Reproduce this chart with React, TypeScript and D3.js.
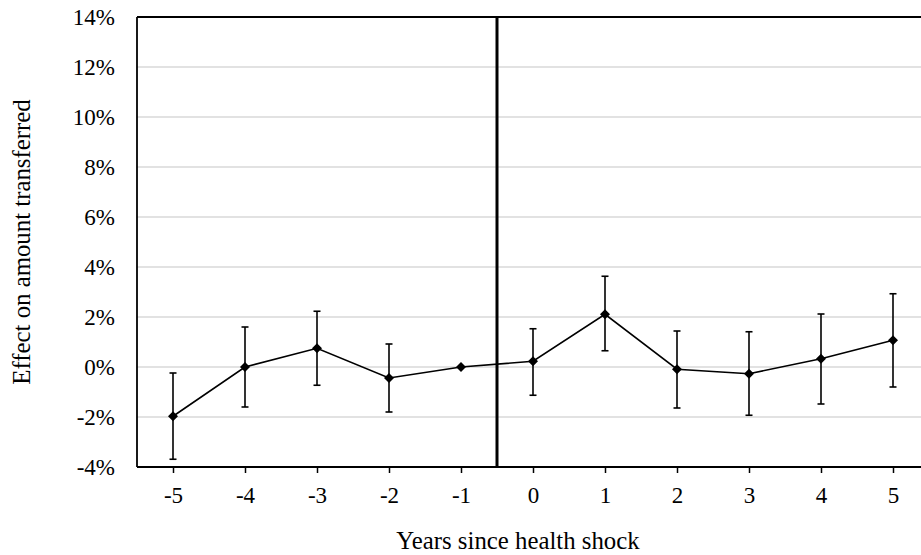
import React, { useEffect, useRef } from 'react'
import * as d3 from 'd3'

const years = ['-5', '-4', '-3', '-2', '-1', '0', '1', '2', '3', '4', '5']
const effect = [-1.97, 0.0, 0.75, -0.44, 0.0, 0.23, 2.11, -0.09, -0.27, 0.33, 1.07]
const upper = [-0.24, 1.6, 2.23, 0.92, null, 1.53, 3.63, 1.44, 1.41, 2.12, 2.93]
const lower = [-3.69, -1.6, -0.73, -1.8, null, -1.13, 0.65, -1.64, -1.93, -1.48, -0.8]
const yTicks = [-4, -2, 0, 2, 4, 6, 8, 10, 12, 14]

const W = 921
const H = 555
const margins = { left: 137, top: 17, right: -8, bottom: 88 }
const FONT = '"Liberation Serif", "Times New Roman", serif'
const FS = 23
const TITLE_FS = 24.8

const App = () => {
  const ref = useRef<SVGSVGElement>(null)

  useEffect(() => {
    document.body.style.margin = '0'
    const svg = d3.select(ref.current)
    svg.selectAll('*').remove()

    const x = d3.scalePoint()
      .domain(years)
      .range([margins.left + 36, W - margins.right - 36])
    const y = d3.scaleLinear()
      .domain([-4, 14])
      .range([H - margins.bottom, margins.top])

    const g = svg.append('g')

    // gridlines
    g.append('g').selectAll('line')
      .data(yTicks.filter(t => t > -4 && t < 14))
      .join('line')
      .attr('x1', margins.left)
      .attr('x2', W)
      .attr('y1', d => y(d))
      .attr('y2', d => y(d))
      .attr('stroke', '#d9d9d9')
      .attr('stroke-width', 1.5)

    // frame: top, left, bottom
    g.append('line')
      .attr('x1', margins.left).attr('x2', W)
      .attr('y1', y(14)).attr('y2', y(14))
      .attr('stroke', '#000').attr('stroke-width', 1.8)
    g.append('line')
      .attr('x1', margins.left).attr('x2', margins.left)
      .attr('y1', y(14)).attr('y2', y(-4))
      .attr('stroke', '#000').attr('stroke-width', 1.8)

    const xAxis = g.append('g')
      .attr('transform', `translate(0, ${y(-4)})`)
      .attr('font-family', FONT)
      .call(d3.axisBottom(x).tickSize(6).tickSizeOuter(0).tickPadding(14))
    xAxis.attr('font-family', FONT)
    xAxis.select('.domain').remove()
    xAxis.selectAll('line').attr('stroke', '#000').attr('stroke-width', 1.5)
    xAxis.selectAll('text')
      .attr('font-family', FONT)
      .attr('font-size', FS)
      .attr('fill', '#000')
    g.append('line')
      .attr('x1', margins.left).attr('x2', W)
      .attr('y1', y(-4)).attr('y2', y(-4))
      .attr('stroke', '#000').attr('stroke-width', 1.8)

    const yAxis = g.append('g')
      .attr('transform', `translate(${margins.left}, 0)`)
      .call(d3.axisLeft(y).tickValues(yTicks).tickSize(0).tickPadding(22).tickFormat(d => `${d}%`))
    yAxis.attr('font-family', FONT)
    yAxis.select('.domain').remove()
    yAxis.selectAll('text')
      .attr('font-family', FONT)
      .attr('font-size', FS)
      .attr('fill', '#000')

    // shock line, between -1 and 0
    const shockX = ((x('-1') as number) + (x('0') as number)) / 2
    g.append('line')
      .attr('x1', shockX).attr('x2', shockX)
      .attr('y1', y(14)).attr('y2', y(-4))
      .attr('stroke', '#000').attr('stroke-width', 3)

    // error bars
    const idx = d3.range(years.length).filter(i => upper[i] != null)
    const eb = g.append('g').attr('stroke', '#000').attr('stroke-width', 1.6)
    eb.selectAll('line.v')
      .data(idx)
      .join('line')
      .attr('class', 'v')
      .attr('x1', i => x(years[i]) as number)
      .attr('x2', i => x(years[i]) as number)
      .attr('y1', i => y(upper[i] as number))
      .attr('y2', i => y(lower[i] as number))
    const caps = idx.flatMap(i => [[i, upper[i] as number], [i, lower[i] as number]])
    eb.selectAll('line.cap')
      .data(caps)
      .join('line')
      .attr('class', 'cap')
      .attr('x1', d => (x(years[d[0]]) as number) - 3.5)
      .attr('x2', d => (x(years[d[0]]) as number) + 3.5)
      .attr('y1', d => y(d[1]))
      .attr('y2', d => y(d[1]))

    // line
    const line = d3.line<number>()
      .x((_, i) => x(years[i]) as number)
      .y(d => y(d))
    g.append('path')
      .datum(effect)
      .attr('d', line)
      .attr('fill', 'none')
      .attr('stroke', '#000')
      .attr('stroke-width', 1.6)

    // markers
    g.append('g').selectAll('path')
      .data(effect)
      .join('path')
      .attr('transform', (d, i) => `translate(${x(years[i])}, ${y(d)})`)
      .attr('d', d3.symbol(d3.symbolDiamond2, 64)())
      .attr('fill', '#000')

    // axis titles
    svg.append('text')
      .attr('x', 518)
      .attr('y', 549)
      .attr('text-anchor', 'middle')
      .attr('font-family', FONT)
      .attr('font-size', TITLE_FS)
      .text('Years since health shock')

    svg.append('text')
      .attr('transform', `translate(30, ${(y(14) + y(-4)) / 2}) rotate(-90)`)
      .attr('text-anchor', 'middle')
      .attr('font-family', FONT)
      .attr('font-size', TITLE_FS)
      .text('Effect on amount transferred')
  }, [])

  return <svg ref={ref} width={W} height={H} style={{ display: 'block' }} />
}

export default App
